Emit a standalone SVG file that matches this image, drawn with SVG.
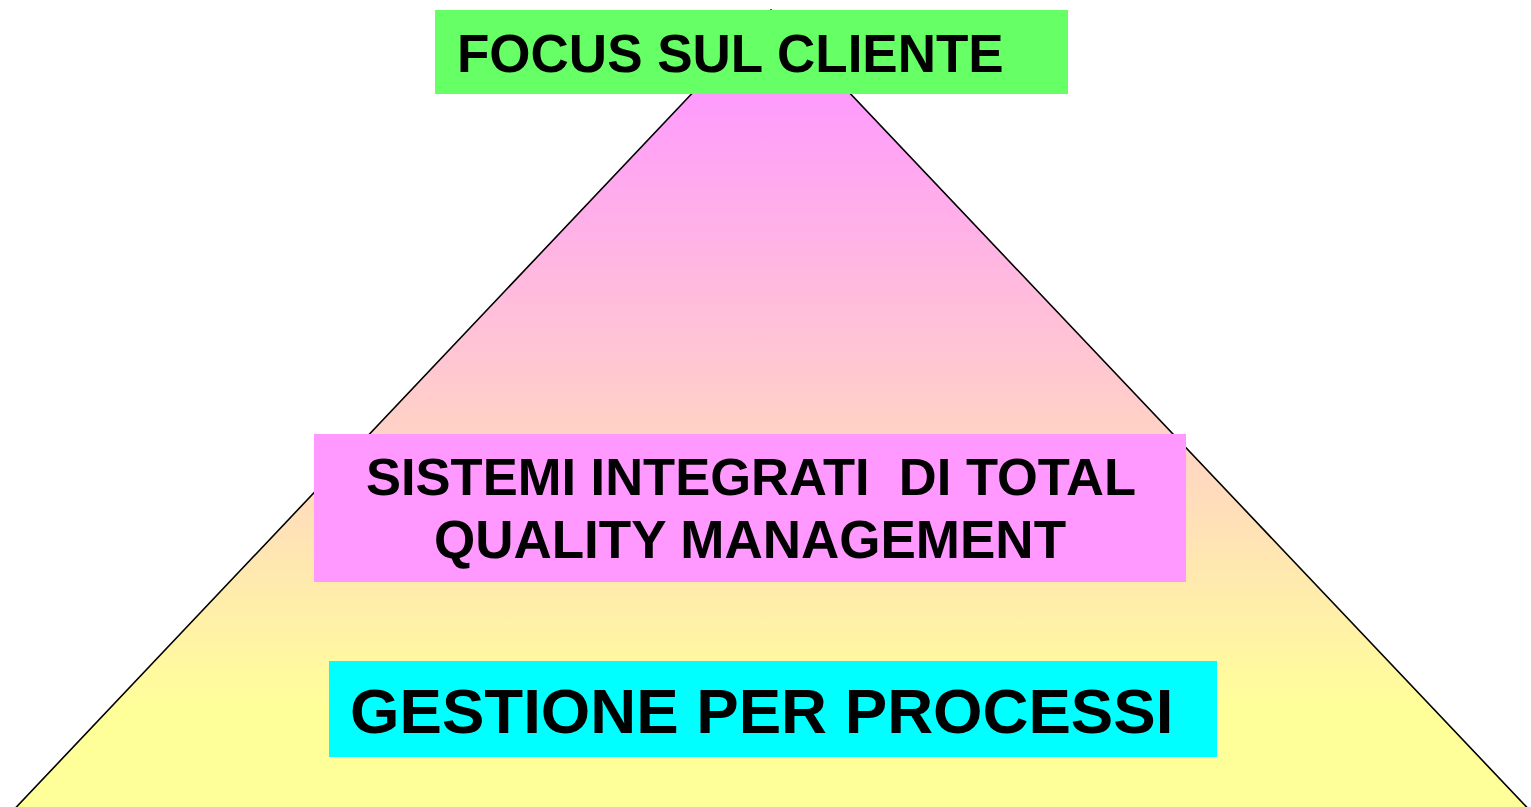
<svg xmlns="http://www.w3.org/2000/svg" width="1531" height="807" viewBox="0 0 1531 807">
<defs>
<linearGradient id="pyr" x1="0" y1="80" x2="0" y2="710" gradientUnits="userSpaceOnUse">
<stop offset="0" stop-color="#FF99FF"/>
<stop offset="1" stop-color="#FFFF99"/>
</linearGradient>
<style>
.lbl{font-family:"Liberation Sans",Arial,sans-serif;font-weight:bold;fill:#000000}
</style>
</defs>
<rect x="0" y="0" width="1531" height="807" fill="#FFFFFF"/>
<g id="pyramid">
<polygon points="771,10 6,818 1537,818" fill="url(#pyr)" stroke="#000000" stroke-width="1.6"/>
</g>
<g id="connectors"></g>
<g id="focus">
<rect x="435" y="10" width="633" height="84" fill="#66FF66"/>
<text class="lbl" x="457" y="72" font-size="53">FOCUS SUL CLIENTE</text>
</g>
<g id="tqm">
<rect x="314" y="434" width="872" height="148" fill="#FF99FF"/>
<text class="lbl" x="751" y="495" font-size="52.5" text-anchor="middle" xml:space="preserve">SISTEMI INTEGRATI  DI TOTAL</text>
<text class="lbl" x="750" y="558" font-size="53" text-anchor="middle">QUALITY MANAGEMENT</text>
</g>
<g id="processi">
<rect x="329" y="661" width="888" height="96" fill="#00FFFF"/>
<text class="lbl" x="350" y="733" font-size="63.6">GESTIONE PER PROCESSI</text>
</g>
</svg>
